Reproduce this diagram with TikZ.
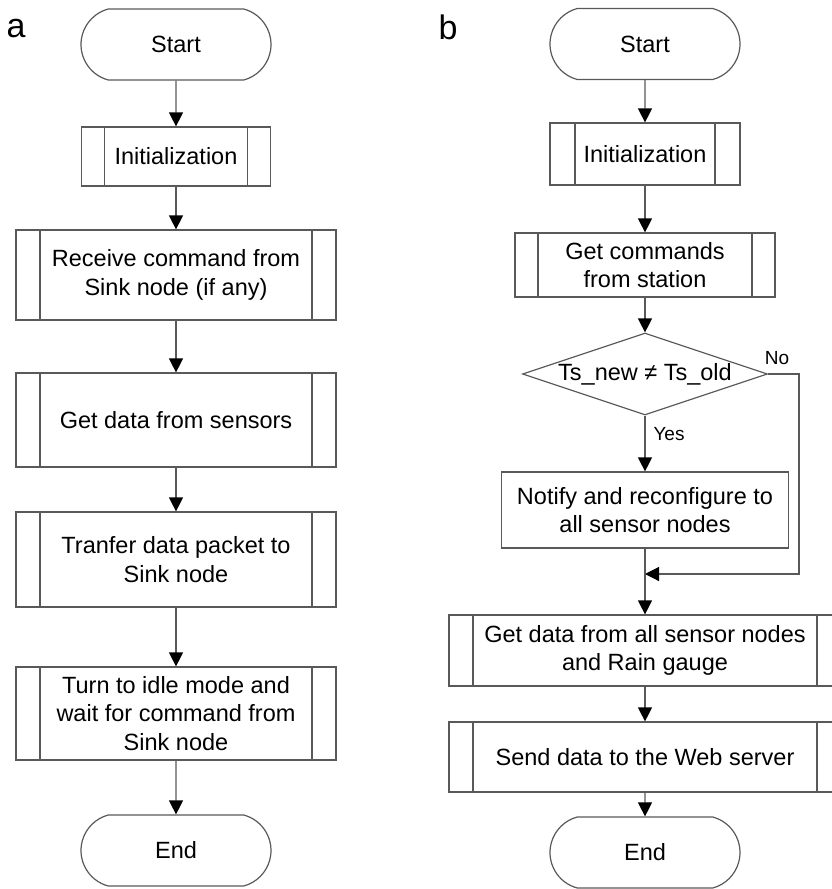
\documentclass[tikz,border=0pt]{standalone}
\usepackage{fontspec}
\setmainfont{Liberation Sans}
\usetikzlibrary{arrows.meta,shapes.misc,shapes.geometric}

\begin{document}
\begin{tikzpicture}[x=1pt,y=-1pt,
        font=\fontsize{23.5pt}{28.5pt}\selectfont,
        grayline/.style={draw=black!65,line width=1.2pt},
        flow/.style={grayline,-{Triangle[width=14pt,length=14pt,color=black]}},
        termbox/.style={grayline,rounded rectangle,rounded rectangle arc length=150,minimum width=190pt,minimum height=71pt,inner sep=0pt},
        plainbox/.style={grayline,rectangle,inner sep=2pt,align=center},
        procbox/.style={plainbox,path picture={\draw[grayline] ([xshift=#1]path picture bounding box.north west) -- ([xshift=#1]path picture bounding box.south west) ([xshift=-#1]path picture bounding box.north east) -- ([xshift=-#1]path picture bounding box.south east);}},
        procbox/.default=24pt,
        decbox/.style={grayline,diamond,aspect=3,inner sep=0pt,minimum width=245pt,minimum height=82pt},
        panel/.style={font=\fontsize{34pt}{34pt}\selectfont},
        answer/.style={font=\fontsize{19pt}{19pt}\selectfont}]
        \useasboundingbox (0,0) rectangle (831,889);
        
        \node[panel] (la) at (16,29) {a};
        \node[panel] (lb) at (448,27) {b};
        
        \node[termbox] (sa) at (176,44.5) {Start};
        \node[procbox=23pt,minimum width=189pt,minimum height=59pt] (ia) at (176,156.5) {Initialization};
        \node[procbox,minimum width=320pt,minimum height=90pt] (ra) at (176,275) {Receive command from\\Sink node (if any)};
        \node[procbox,minimum width=320pt,minimum height=94pt] (ga) at (176,420) {Get data from sensors};
        \node[procbox,minimum width=320pt,minimum height=95pt] (ta) at (176,559.5) {Tranfer data packet to\\Sink node};
        \node[procbox,minimum width=320pt,minimum height=93pt] (wa) at (176,713.5) {Turn to idle mode and\\wait for command from\\Sink node};
        \node[termbox] (ea) at (176,850.5) {End};
        
        \draw[flow] (sa) -- (ia);
        \draw[flow] (ia) -- (ra);
        \draw[flow] (ra) -- (ga);
        \draw[flow] (ga) -- (ta);
        \draw[flow] (ta) -- (wa);
        \draw[flow] (wa) -- (ea);
        
        \node[termbox] (sb) at (645,44) {Start};
        \node[procbox=25pt,minimum width=190pt,minimum height=62pt] (ib) at (645,154) {Initialization};
        \node[procbox=23pt,minimum width=260pt,minimum height=64pt] (cb) at (645,265) {Get commands\\from station};
        \node[decbox] (db) at (645,374) {Ts\_new ≠ Ts\_old};
        \node[plainbox,minimum width=287pt,minimum height=76pt] (nb) at (645,510) {Notify and reconfigure to\\all sensor nodes};
        \node[procbox,minimum width=392pt,minimum height=71pt] (gb) at (645,650.5) {Get data from all sensor nodes\\and Rain gauge};
        \node[procbox,minimum width=392pt,minimum height=70pt] (xb) at (645,757) {Send data to the Web server};
        \node[termbox] (eb) at (645,852.5) {End};
        
        \coordinate (mb) at (645,574);
        \coordinate (n1) at (799,374);
        \coordinate (n2) at (799,574);
        
        \node[answer] (no) at (777,358) {No};
        \node[answer] (yes) at (669,434) {Yes};
        
        \draw[flow] (sb) -- (ib);
        \draw[flow] (ib) -- (cb);
        \draw[flow] (cb) -- (db);
        \draw[flow] (db) -- (nb);
        \draw[grayline] (nb) -- (mb);
        \draw[flow] (db.east) -- (n1) -- (n2) -- (mb);
        \draw[flow] (mb) -- (gb);
        \draw[flow] (gb) -- (xb);
        \draw[flow] (xb) -- (eb);
    \end{tikzpicture}
\end{document}
